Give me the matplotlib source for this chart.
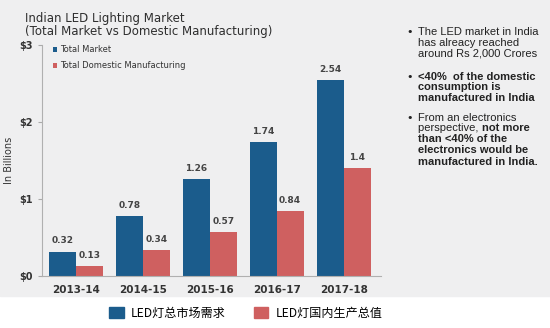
import numpy as np
import matplotlib
matplotlib.use("Agg")
import matplotlib.pyplot as plt
from matplotlib.patches import Rectangle, Patch

plt.rcParams['font.family'] = ['DejaVu Sans', 'Noto Sans CJK SC']

years = ['2013-14', '2014-15', '2015-16', '2016-17', '2017-18']
total_market = [0.32, 0.78, 1.26, 1.74, 2.54]
domestic = [0.13, 0.34, 0.57, 0.84, 1.4]
yticks = [0, 1, 2, 3]
ytick_labels = ['$0', '$1', '$2', '$3']

blue = '#1b5c8c'
red = '#cf6060'
txt = '#333333'

fig = plt.figure(figsize=(5.5, 3.28), dpi=100, facecolor='white')

# gray slide background
fig.patches.append(Rectangle((0, 0.097), 1, 0.903, transform=fig.transFigure,
                             color='#efeff0', zorder=-10))

ax = fig.add_axes([0.077, 0.158, 0.615, 0.705])
ax.set_facecolor('none')
x = np.arange(len(years))
w = 0.4
b1 = ax.bar(x - w/2, total_market, w, color=blue, label='Total Market')
b2 = ax.bar(x + w/2, domestic, w, color=red, label='Total Domestic Manufacturing')

for bars, vals in ((b1, total_market), (b2, domestic)):
    for r, v in zip(bars, vals):
        ax.text(r.get_x() + r.get_width()/2, v + 0.08, f'{v:g}', ha='center',
                va='bottom', fontsize=6.5, fontweight='bold', color='#444444')

ax.set_xlim(-0.5, len(years) - 0.45)
ax.set_ylim(0, 3.0)
ax.set_yticks(yticks)
ax.set_yticklabels(ytick_labels, fontsize=7, fontweight='bold', color=txt)
ax.set_xticks(x)
ax.set_xticklabels(years, fontsize=7.5, fontweight='bold', color=txt)
ax.tick_params(axis='x', length=0, pad=6)
ax.tick_params(axis='y', length=3, color='#aaaaaa', pad=4)
for s in ('top', 'right'):
    ax.spines[s].set_visible(False)
for s in ('left', 'bottom'):
    ax.spines[s].set_color('#b0b0b0')
    ax.spines[s].set_linewidth(0.8)
ax.set_ylabel('In Billions', fontsize=7, color=txt)
ax.yaxis.set_label_coords(-0.085, 0.5)

leg = ax.legend(loc='upper left', bbox_to_anchor=(0.01, 1.03), frameon=False,
                fontsize=6, handlelength=0.5, handleheight=0.5,
                handletextpad=0.3, labelspacing=0.8)
for t in leg.get_texts():
    t.set_color(txt)

fig.text(0.045, 0.945, 'Indian LED Lighting Market', fontsize=8.5, color='#2e2e2e',
         va='center')
fig.text(0.045, 0.905, '(Total Market vs Domestic Manufacturing)', fontsize=8.5,
         color='#2e2e2e', va='center')

# bullet notes on the right
fs = 8
lines = [
    (32, 'The LED market in India', 'normal', True),
    (43, 'has alreacy reached', 'normal', False),
    (53, 'around Rs 2,000 Crores', 'normal', False),
    (77, '<40%  of the domestic', 'bold', True),
    (87, 'consumption is', 'bold', False),
    (98, 'manufactured in India', 'bold', False),
    (118, 'From an electronics', 'normal', True),
    (139, 'than <40% of the', 'bold', False),
    (150, 'electronics would be', 'bold', False),
    (162, 'manufactured in India.', 'bold', False),
]
for ypx, s, wt, bullet in lines:
    yf = 1 - ypx / 328
    fig.text(418 / 550, yf, s, fontsize=fs, fontweight=wt, color='#222222',
             va='center', family='Liberation Sans')
    if bullet:
        fig.text(406 / 550, yf, '•', fontsize=fs, color='#222222', va='center')
y128 = 1 - 128 / 328
t1 = fig.text(418 / 550, y128, 'perspective, ', fontsize=fs, color='#222222',
              va='center', family='Liberation Sans')
fig.canvas.draw()
bb = t1.get_window_extent()
fig.text(bb.x1 / fig.bbox.width, y128, 'not more', fontsize=fs, fontweight='bold',
         color='#222222', va='center', family='Liberation Sans')

# bottom chinese legend
handles = [Patch(color=blue, label='LED灯总市场需求'),
           Patch(color=red, label='LED灯国内生产总值')]
fig.legend(handles=handles, loc='center', bbox_to_anchor=(0.447, 0.045), ncol=2,
           frameon=False, handlelength=1.2, handleheight=1.0,
           columnspacing=2.3, handletextpad=0.6,
           prop={'family': ['Noto Sans CJK SC'], 'size': 8.7})

fig.savefig('out.png', dpi=100, facecolor=fig.get_facecolor())
